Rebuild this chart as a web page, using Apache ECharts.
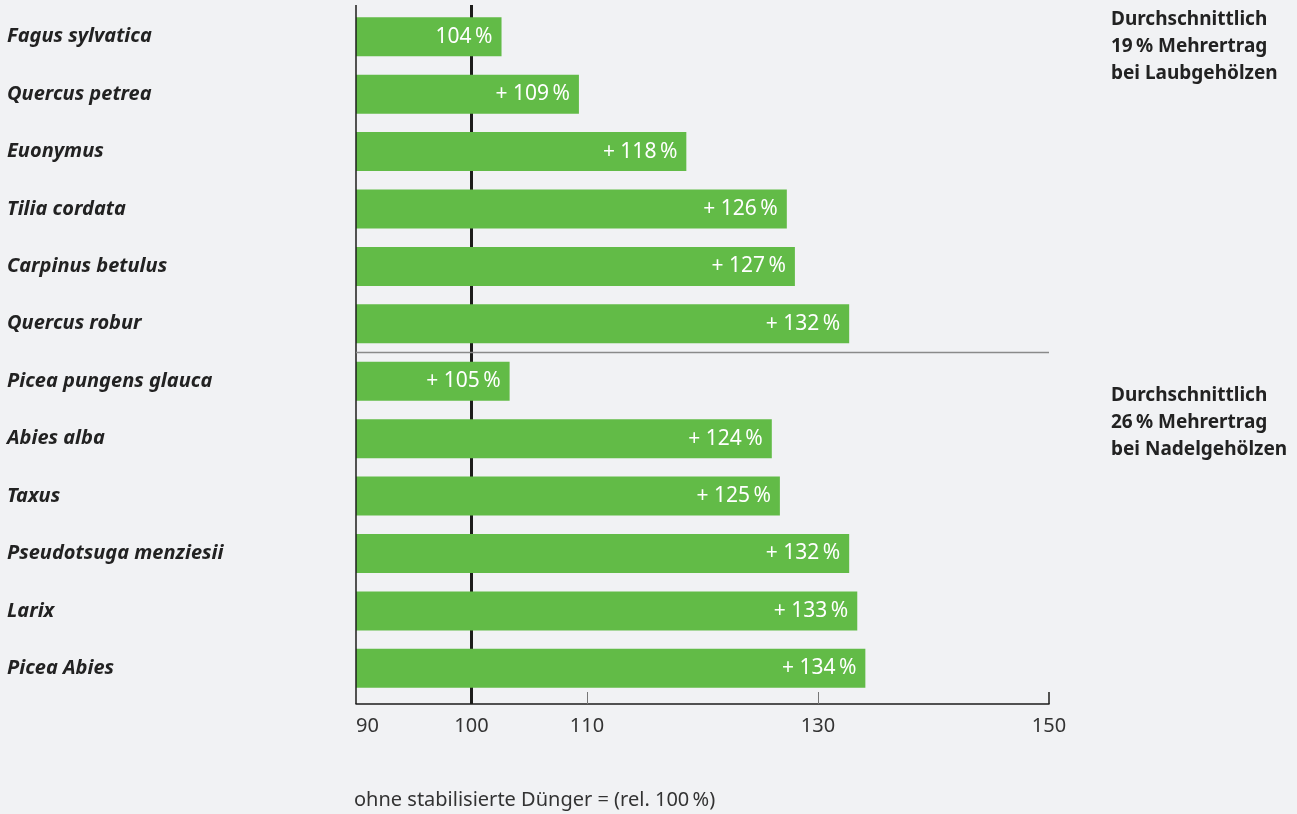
<!DOCTYPE html>
<html>
<head>
<meta charset="utf-8">
<script src="https://cdn.jsdelivr.net/npm/echarts@6/dist/echarts.min.js"></script>
<style>
  html, body { margin: 0; padding: 0; background: #f1f2f4; }
  #chart { width: 1297px; height: 814px; }
</style>
</head>
<body>
<div id="chart"></div>
<script>
const species = [
  'Fagus sylvatica', 'Quercus petrea', 'Euonymus', 'Tilia cordata',
  'Carpinus betulus', 'Quercus robur', 'Picea pungens glauca', 'Abies alba',
  'Taxus', 'Pseudotsuga menziesii', 'Larix', 'Picea Abies'
]
// bar lengths as drawn in the source picture
const barValues = [102.6, 109.3, 118.6, 127.3, 128.0, 132.7, 103.3, 126.0, 126.7, 132.7, 133.4, 134.1]
// printed values
const labelValues = [104, 109, 118, 126, 127, 132, 105, 124, 125, 132, 133, 134]
const tickLabels = [90, 100, 110, 130, 150]
const minorTicks = [110, 130]
const notes = [
  ['Durchschnittlich', '19\u202F% Mehrertrag', 'bei Laubgehölzen'],
  ['Durchschnittlich', '26\u202F% Mehrertrag', 'bei Nadelgehölzen']
]
const footnote = 'ohne stabilisierte Dünger = (rel. 100\u202F%)'

const font = '"Noto Sans", sans-serif'
const chart = echarts.init(document.getElementById('chart'))

const option = {
  backgroundColor: '#f1f2f4',
  animation: false,
  grid: { left: 356, right: 248, top: 8, height: 689 },
  xAxis: {
    type: 'value',
    min: 90,
    max: 150,
    offset: 7,
    splitLine: { show: false },
    axisLine: { show: true, lineStyle: { color: '#1d1d1b', width: 1.5 } },
    axisTick: {
      show: true,
      inside: true,
      length: 12,
      customValues: minorTicks,
      lineStyle: { color: '#777', width: 1 }
    },
    axisLabel: {
      customValues: tickLabels,
      alignMinLabel: 'left',
      margin: 12,
      fontSize: 20,
      fontFamily: font,
      color: '#333'
    }
  },
  yAxis: {
    type: 'category',
    inverse: true,
    data: species,
    axisLine: { show: false },
    axisTick: { show: false },
    axisLabel: {
      align: 'left',
      margin: 349,
      fontSize: 20,
      fontStyle: 'italic',
      fontWeight: 'bold',
      fontFamily: font,
      color: '#222'
    }
  },
  series: [
    {
      type: 'bar',
      data: barValues,
      barWidth: 39,
      itemStyle: { color: '#62bb47' },
      label: {
        show: true,
        position: 'insideRight',
        distance: 9,
        color: '#fff',
        fontSize: 21,
        fontFamily: font,
        formatter: (p) => (p.dataIndex === 0 ? '' : '+ ') + labelValues[p.dataIndex] + '\u202F%'
      }
    }
  ]
}

chart.setOption(option)

// reference lines placed through the chart's own scales
const x90 = chart.convertToPixel({ xAxisIndex: 0 }, 90)
const x100 = chart.convertToPixel({ xAxisIndex: 0 }, 100)
const x150 = chart.convertToPixel({ xAxisIndex: 0 }, 150)
const c0 = chart.convertToPixel({ yAxisIndex: 0 }, species[0])
const c1 = chart.convertToPixel({ yAxisIndex: 0 }, species[1])
const band = c1 - c0
const yTop = c0 - band / 2 - 3
const yAxisLine = c0 + band * (species.length - 0.5) + 7
const ySep = (chart.convertToPixel({ yAxisIndex: 0 }, species[5]) + chart.convertToPixel({ yAxisIndex: 0 }, species[6])) / 2

const noteText = (lines, top) => ({
  type: 'text',
  left: 1111,
  top: top,
  style: {
    text: lines.join('\n'),
    font: 'bold 19px ' + font,
    lineHeight: 27,
    fill: '#222'
  }
})

chart.setOption({
  graphic: [
    {
      type: 'line', z: 1,
      shape: { x1: x100, y1: yTop, x2: x100, y2: yAxisLine },
      style: { stroke: '#1d1d1b', lineWidth: 3 }
    },
    {
      type: 'line', z: 10,
      shape: { x1: x90, y1: yTop, x2: x90, y2: yAxisLine },
      style: { stroke: '#1d1d1b', lineWidth: 1.5 }
    },
    {
      type: 'line', z: 10,
      shape: { x1: x150, y1: yAxisLine - 12, x2: x150, y2: yAxisLine },
      style: { stroke: '#1d1d1b', lineWidth: 1.5 }
    },
    {
      type: 'line', z: 10,
      shape: { x1: x90, y1: ySep, x2: x150, y2: ySep },
      style: { stroke: '#8a8a8a', lineWidth: 1.5 }
    },
    noteText(notes[0], 6),
    noteText(notes[1], 382),
    {
      type: 'text',
      left: 354,
      top: 790,
      style: { text: footnote, font: '20px ' + font, fill: '#333' }
    }
  ]
})
</script>
</body>
</html>
